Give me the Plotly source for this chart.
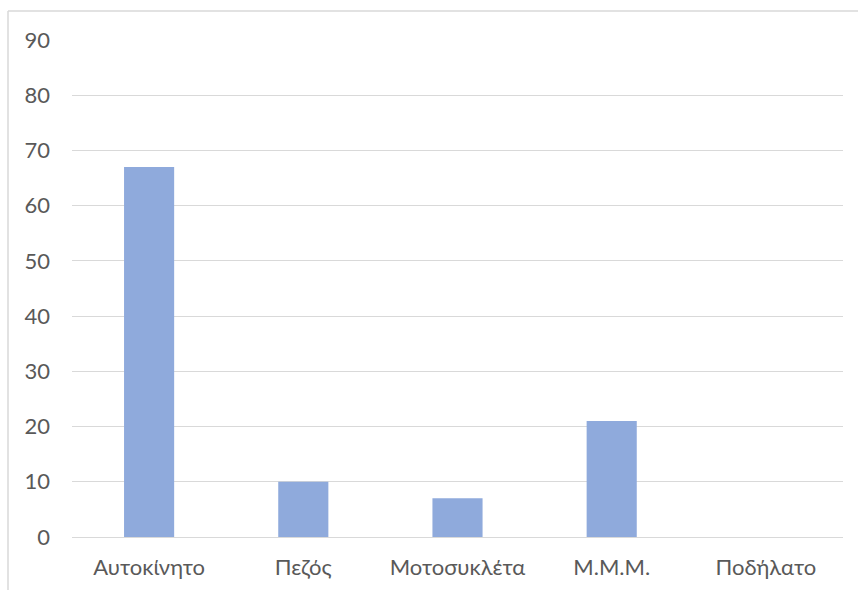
import plotly.graph_objects as go

categories = ["Αυτοκίνητο", "Πεζός", "Μοτοσυκλέτα", "Μ.Μ.Μ.", "Ποδήλατο"]
values = [67, 10, 7, 21, 0]
y_ticks = [0, 10, 20, 30, 40, 50, 60, 70, 80, 90]

W, H = 858, 590
# plot area in pixels
left, right, top, bottom = 72, 843, 40, 537

BAR = "#8FAADC"
GRID = "#D9D9D9"
TEXT = "#595959"
FONT = "Lato, Open Sans, sans-serif"
FSIZE = 22

fig = go.Figure(
    go.Bar(x=categories, y=values, marker=dict(color=BAR, line=dict(width=0)))
)

fig.update_layout(
    width=W,
    height=H,
    margin=dict(l=0, r=0, t=0, b=0, autoexpand=False),
    paper_bgcolor="white",
    plot_bgcolor="white",
    bargap=0.675,
    showlegend=False,
    font=dict(family=FONT, size=FSIZE, color=TEXT),
    xaxis=dict(
        domain=[left / W, right / W],
        automargin=False,
        showgrid=False,
        showline=False,
        ticks="",
        ticklabelstandoff=15,
        tickfont=dict(size=FSIZE, color=TEXT),
    ),
    yaxis=dict(
        domain=[(H - bottom) / H, (H - top) / H],
        automargin=False,
        range=[0, 90],
        tickvals=y_ticks,
        showgrid=True,
        gridcolor=GRID,
        gridwidth=1,
        zeroline=True,
        zerolinecolor=GRID,
        zerolinewidth=1,
        showline=False,
        ticks="",
        ticklabelstandoff=21,
        tickfont=dict(size=FSIZE, color=TEXT),
    ),
    shapes=[
        # chart frame: left and top edges
        dict(type="line", xref="paper", yref="paper",
             x0=8 / W, x1=8 / W, y0=0, y1=(H - 11) / H,
             line=dict(color=GRID, width=1.5)),
        dict(type="line", xref="paper", yref="paper",
             x0=8 / W, x1=1, y0=(H - 11) / H, y1=(H - 11) / H,
             line=dict(color=GRID, width=1.5)),
    ],
)

fig.write_html("out.html")
